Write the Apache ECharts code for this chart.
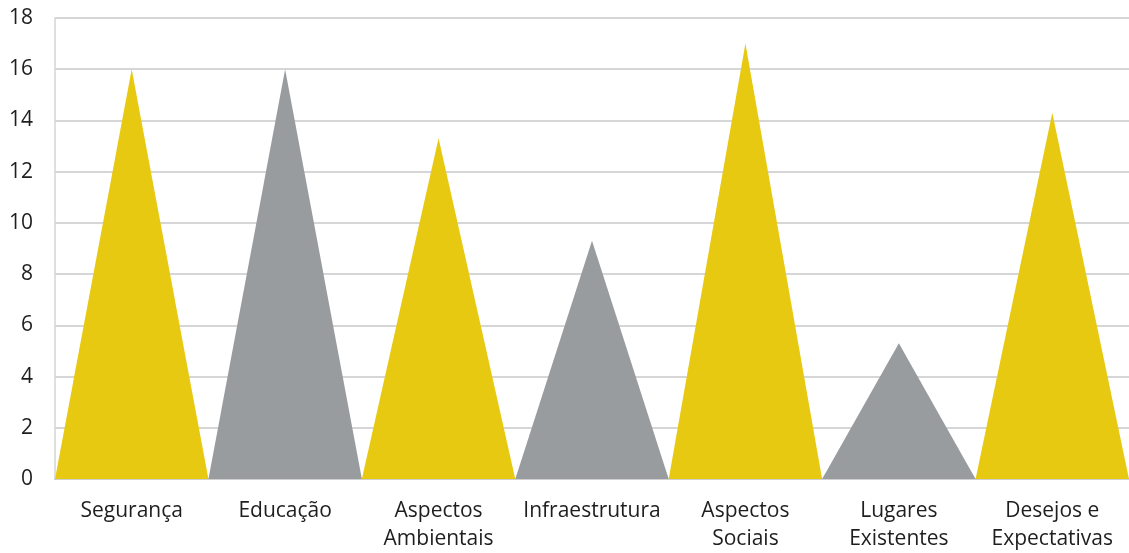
<!DOCTYPE html>
<html>
<head>
<meta charset="utf-8">
<script src="https://cdn.jsdelivr.net/npm/echarts@6/dist/echarts.min.js"></script>
<style>
  html, body { margin: 0; padding: 0; background: #fff; }
  #chart { width: 1129px; height: 553px; }
</style>
</head>
<body>
<div id="chart"></div>
<script>
// categorias e valores
var categories = ['Segurança', 'Educação', 'Aspectos\nAmbientais', 'Infraestrutura', 'Aspectos\nSociais', 'Lugares\nExistentes', 'Desejos e\nExpectativas'];
var values = [16, 16, 13.3, 9.3, 17, 5.3, 14.3];
var barColors = ['#e8c912', '#999c9f', '#e8c912', '#999c9f', '#e8c912', '#999c9f', '#e8c912'];

var chart = echarts.init(document.getElementById('chart'));
var option = {
  animation: false,
  grid: { left: 55, right: 0, top: 18, bottom: 71 },
  xAxis: {
    type: 'category',
    data: categories,
    axisLine: { show: true, lineStyle: { color: '#cfcfcf', width: 2 } },
    axisTick: { show: false },
    axisLabel: {
      interval: 0,
      margin: 18,
      fontFamily: 'Open Sans',
      fontSize: 21,
      lineHeight: 28,
      color: '#1e1e1e'
    }
  },
  yAxis: {
    type: 'value',
    min: 0,
    max: 18,
    interval: 2,
    axisLine: { show: true, lineStyle: { color: '#d4d4d4', width: 1.5 } },
    axisTick: { show: false },
    splitLine: { lineStyle: { color: '#c8c8c8', width: 1.5 } },
    axisLabel: {
      margin: 22,
      fontFamily: 'Open Sans',
      fontSize: 21,
      color: '#1e1e1e'
    }
  },
  series: [{
    type: 'pictorialBar',
    symbol: 'path://M0,1 L0.5,0 L1,1 Z',
    symbolSize: ['100%', '100%'],
    barCategoryGap: '0%',
    z: 5,
    data: values.map(function (v, i) {
      return { value: v, itemStyle: { color: barColors[i] } };
    })
  }]
};
chart.setOption(option);
</script>
</body>
</html>
